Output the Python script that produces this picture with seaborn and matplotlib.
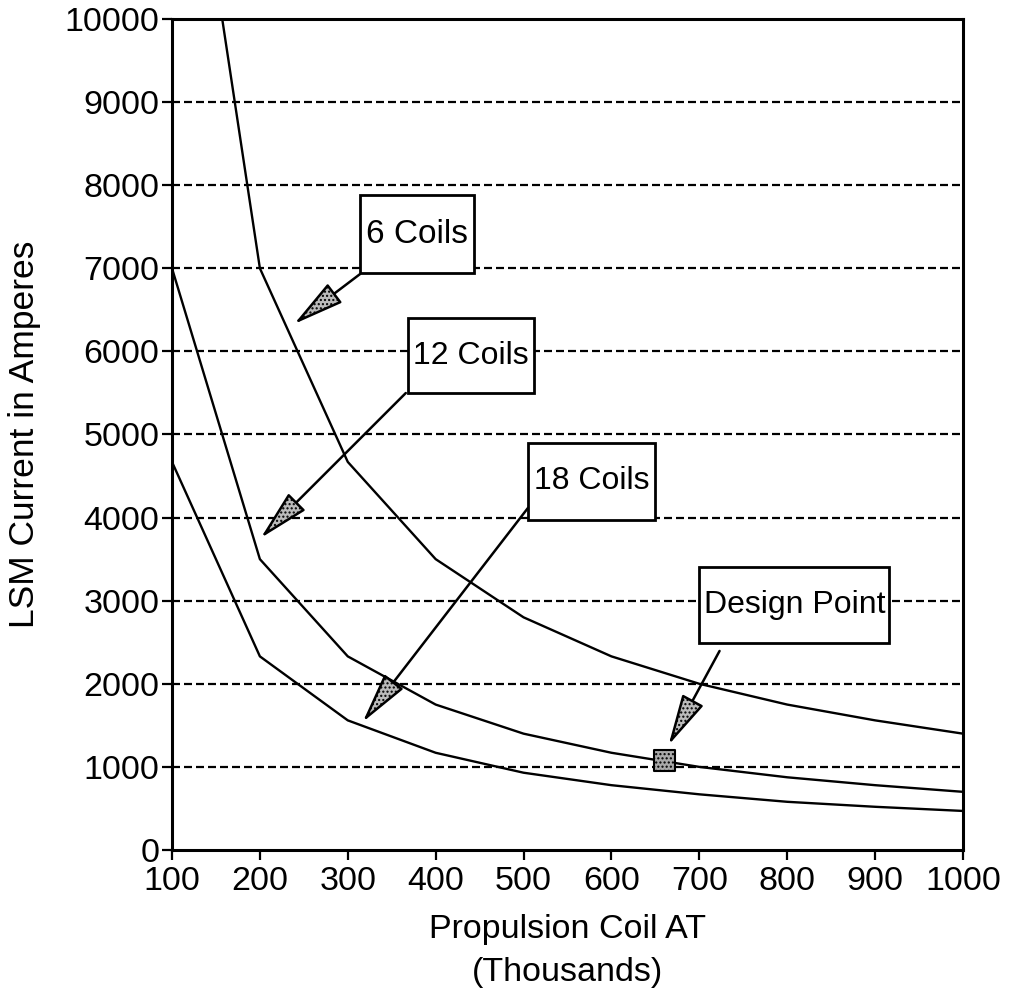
import matplotlib
matplotlib.use("Agg")
import matplotlib.pyplot as plt
import seaborn as sns
import pandas as pd
from matplotlib.patches import Rectangle, FancyArrowPatch

# ---- data ----
coil_at = [100, 200, 300, 400, 500, 600, 700, 800, 900, 1000]
coils_6 = [14000, 7000, 4670, 3500, 2800, 2330, 2000, 1750, 1560, 1400]
coils_12 = [7000, 3500, 2330, 1750, 1400, 1170, 1000, 875, 780, 700]
coils_18 = [4670, 2330, 1560, 1170, 930, 780, 670, 580, 520, 470]
series_names = ["6 Coils", "12 Coils", "18 Coils"]
design_x = [660]
design_y = [1080]
x_ticks = [100, 200, 300, 400, 500, 600, 700, 800, 900, 1000]
y_ticks = [0, 1000, 2000, 3000, 4000, 5000, 6000, 7000, 8000, 9000, 10000]

rows = []
for name, vals in zip(series_names, [coils_6, coils_12, coils_18]):
    for x, y in zip(coil_at, vals):
        rows.append({"x": x, "y": y, "series": name})
df = pd.DataFrame(rows)

sns.set_theme(style="white")
plt.rcParams["font.family"] = ["Liberation Sans", "DejaVu Sans"]

fig = plt.figure(figsize=(10.09, 9.98), dpi=100)
ax = fig.add_axes([172 / 1009, 1 - 850 / 998, (963 - 172) / 1009, (850 - 19) / 998])

# grid lines (horizontal dashed)
for yv in y_ticks[1:-1]:
    ax.axhline(yv, color="black", lw=1.6, dashes=(3.6, 1.8), zorder=1)

sns.lineplot(data=df, x="x", y="y", hue="series", palette=["black"] * 3,
             linewidth=1.7, legend=False, ax=ax, zorder=3, sort=False)

ax.set_xlim(100, 1000)
ax.set_ylim(0, 10000)
ax.set_xticks(x_ticks)
ax.set_yticks(y_ticks)
ax.tick_params(axis="both", direction="out", length=7, width=1.6,
               labelsize=24.5, colors="black", bottom=True, left=True)
ax.tick_params(axis="x", pad=4.5)
ax.tick_params(axis="y", pad=2)
for s in ax.spines.values():
    s.set_color("black")
    s.set_linewidth(2.2)

ax.set_xlabel("Propulsion Coil AT\n(Thousands)", fontsize=24.5, labelpad=12,
              linespacing=1.5, color="black")
ax.set_ylabel("LSM Current in Amperes", fontsize=25.5, labelpad=17, color="black")

# design point marker
ax.scatter(design_x, design_y, marker="s", s=230, facecolor="#aaaaaa",
           edgecolor="black", linewidth=1.5, zorder=6, hatch="....")

# label boxes: (text, font size, box x0, x1, y0, y1, arrow start, arrow tip)
boxes = [
    ("6 Coils", 24, 314, 444, 6943, 7882, (314, 6931), (239, 6330)),
    ("12 Coils", 23, 368, 512, 5499, 6402, (366, 5499), (201, 3755)),
    ("18 Coils", 23, 505, 650, 3971, 4898, (505, 4116), (317, 1540)),
    ("Design Point", 23, 700, 916, 2491, 3406, (723, 2395), (665, 1264)),
]
for text, fs, x0, x1, y0, y1, start, tip in boxes:
    ax.add_patch(Rectangle((x0, y0), x1 - x0, y1 - y0, facecolor="white",
                           edgecolor="black", linewidth=2.0, zorder=5))
    ax.text((x0 + x1) / 2, (y0 + y1) / 2, text, ha="center", va="center",
            fontsize=fs, color="black", zorder=6)
    arr = FancyArrowPatch(start, tip, arrowstyle="-|>,head_length=3.2,head_width=0.75",
                          mutation_scale=10, facecolor="#bbbbbb", edgecolor="black",
                          linewidth=1.8, shrinkA=0, shrinkB=0, zorder=7, hatch="....")
    ax.add_patch(arr)

fig.savefig("out.png", dpi=100)
